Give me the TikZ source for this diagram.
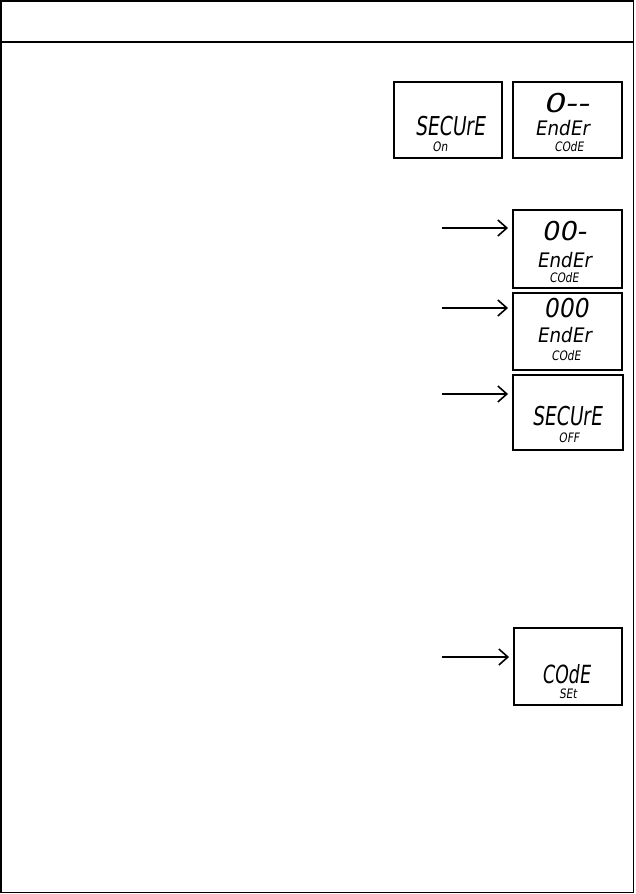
\documentclass[tikz,border=0pt]{standalone}
\usepackage{fontspec}
\usetikzlibrary{arrows.meta}
\newfontfamily\lcdfont[FakeSlant=0.18]{DejaVu Sans}
\tikzset{
  lcdbox/.style={draw, line width=1.9pt, inner sep=0pt},
  lcdbig/.style={font=\lcdfont\fontsize{26}{26}\selectfont, inner sep=0pt, anchor=base},
  lcdmid/.style={font=\lcdfont\fontsize{20}{20}\selectfont, inner sep=0pt, anchor=base, xscale=0.92},
  lcdsmall/.style={font=\lcdfont\fontsize{13}{13}\selectfont, inner sep=0pt, anchor=base, xscale=0.82},
  arr/.style={line width=1.6pt, -{Straight Barb[length=9pt,width=16pt,line width=1.6pt]}, shorten >=4pt},
}
\begin{document}
\begin{tikzpicture}[x=1pt,y=-1pt]
\useasboundingbox (0,0) rectangle (635,894);
% page frame
\draw[line width=1.5pt] (1,1) rectangle (633.5,892.5);
\draw[line width=1.5pt] (1,42) -- (633.5,42);
% display boxes
\node[lcdbox, minimum width=108pt, minimum height=76pt] (b1) at (448,120) {};
\node[lcdbox, minimum width=109pt, minimum height=76pt] (b2) at (567.5,120) {};
\node[lcdbox, minimum width=109pt, minimum height=78pt] (b3) at (567.5,249) {};
\node[lcdbox, minimum width=109pt, minimum height=77pt] (b4) at (567.5,331.5) {};
\node[lcdbox, minimum width=110pt, minimum height=75pt] (b5) at (568,412.5) {};
\node[lcdbox, minimum width=108pt, minimum height=77pt] (b6) at (568,666.5) {};
% box 1
\node[lcdbig, xscale=0.72] (t1a) at (450,135) {SECUrE};
\node[lcdsmall] (t1b) at (440,151.5) {On};
% box 2
\node[lcdbig, xscale=1.3] (t2a) at (566,112) {0-{}-};
\node[lcdmid] (t2b) at (562,135) {EndEr};
\node[lcdsmall] (t2c) at (569,151) {COdE};
% box 3
\node[lcdbig, xscale=1.05] (t3a) at (564,240) {00-};
\node[lcdmid] (t3b) at (564,267) {EndEr};
\node[lcdsmall] (t3c) at (564,282) {COdE};
% box 4
\node[lcdbig, xscale=0.9] (t4a) at (566,317) {000};
\node[lcdmid] (t4b) at (564,342) {EndEr};
\node[lcdsmall] (t4c) at (566,360) {COdE};
% box 5
\node[lcdbig, xscale=0.72] (t5a) at (567,425) {SECUrE};
\node[lcdsmall] (t5b) at (569,442) {OFF};
% box 6
\node[lcdbig, xscale=0.7, font=\lcdfont\fontsize{25}{25}\selectfont] (t6a) at (566,683) {COdE};
\node[lcdsmall] (t6b) at (568,698) {SEt};
% arrows
\coordinate (s1) at (442,228);
\coordinate (s2) at (442,308);
\coordinate (s3) at (442,394);
\coordinate (s4) at (442,657);
\draw[arr] (s1) -- (s1 -| b3.west);
\draw[arr] (s2) -- (s2 -| b4.west);
\draw[arr] (s3) -- (s3 -| b5.west);
\draw[arr] (s4) -- (s4 -| b6.west);
\end{tikzpicture}
\end{document}
